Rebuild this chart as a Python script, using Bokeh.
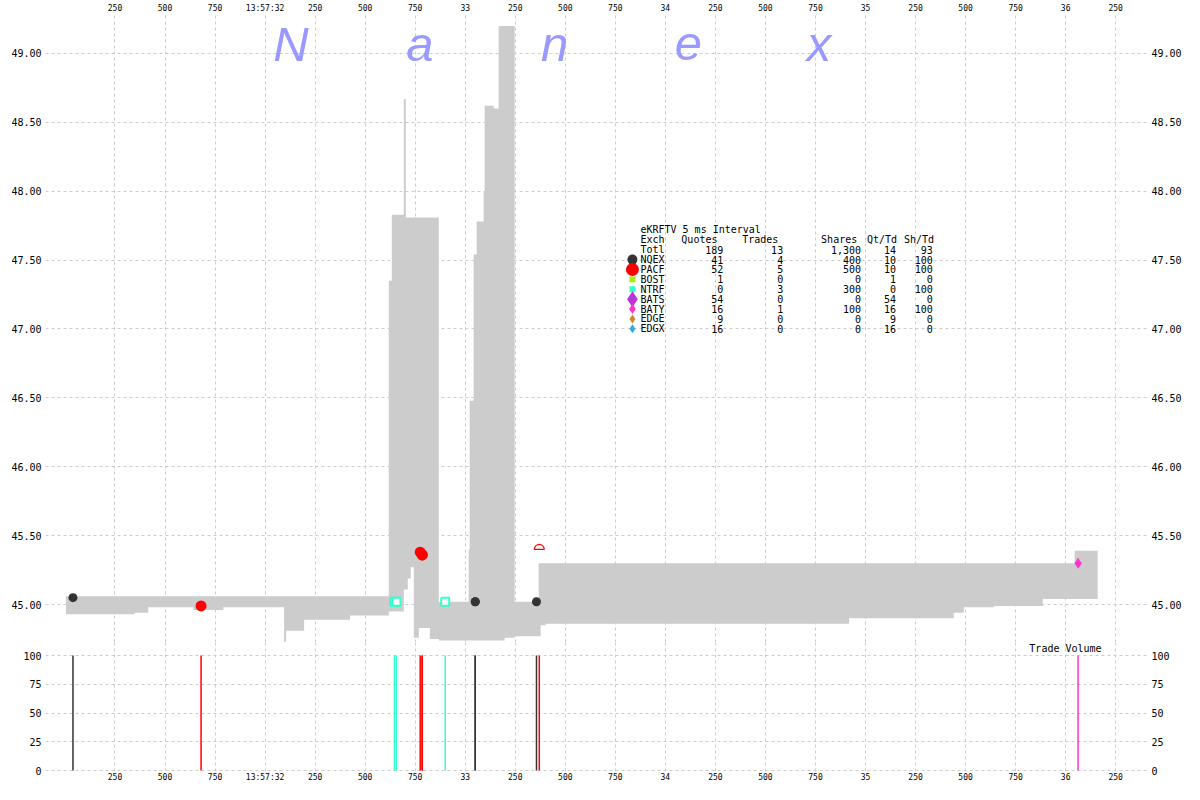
import numpy as np
from bokeh.plotting import figure
from bokeh.models import Range1d, FixedTicker, LinearAxis, NumeralTickFormatter
from bokeh.layouts import column
from bokeh.embed import file_html
from bokeh.resources import INLINE
from bokeh.core.properties import value

# ---------------- data (time = seconds after 13:57:31.000) ----------------
spread_t = [0.005, 0.347, 0.416, 0.641, 0.791, 1.095, 1.105, 1.195, 1.424, 1.618,
            1.633, 1.693, 1.703, 1.713, 1.728, 1.743, 1.768, 1.823, 1.868, 2.017,
            2.022, 2.042, 2.057, 2.092, 2.097, 2.142, 2.167, 2.197, 2.247, 2.367,
            2.377, 2.401, 3.918, 4.441, 4.491, 4.641, 4.886, 5.045, 5.160]
spread_ask = [45.06, 45.06, 45.06, 45.06, 45.06, 45.06, 45.06, 45.06, 45.06, 47.35,
              47.83, 48.67, 47.81, 47.81, 47.81, 47.81, 47.81, 47.81, 45.02, 45.40,
              46.48, 47.54, 47.78, 48.00, 48.62, 48.60, 49.20, 49.20, 45.02, 45.30,
              45.30, 45.30, 45.30, 45.30, 45.30, 45.30, 45.30, 45.39, 45.39]
spread_bid = [44.93, 44.94, 44.98, 44.96, 44.98, 44.73, 44.81, 44.89, 44.92, 44.95,
              44.95, 45.11, 45.11, 45.19, 45.27, 44.76, 44.83, 44.75, 44.74, 44.74,
              44.74, 44.74, 44.74, 44.74, 44.74, 44.74, 44.74, 44.76, 44.77, 44.77,
              44.85, 44.86, 44.90, 44.94, 44.98, 44.99, 45.04, 45.04, 45.04]

trade_exch = ["NQEX", "PACF", "NTRF", "NTRF", "PACF", "PACF", "PACF", "NTRF",
              "NQEX", "NQEX", "NQEX", "PACF", "BATY"]
trade_t = [0.040, 0.680, 1.646, 1.656, 1.775, 1.785, 1.785, 1.900,
           2.050, 2.050, 2.356, 2.370, 5.062]
trade_price = [45.05, 44.99, 45.02, 45.02, 45.38, 45.36, 45.36, 45.02,
               45.02, 45.02, 45.02, 45.40, 45.30]
trade_size = [100] * 13

table_exch = ["NQEX", "PACF", "BOST", "NTRF", "BATS", "BATY", "EDGE", "EDGX"]
table_quotes = ["41", "52", "1", "0", "54", "16", "9", "16"]
table_trades = ["4", "5", "0", "3", "0", "1", "0", "0"]
table_shares = ["400", "500", "0", "300", "0", "100", "0", "0"]
table_qttd = ["10", "10", "1", "0", "54", "16", "9", "16"]
table_shtd = ["100", "100", "0", "100", "0", "100", "0", "0"]
total_row = ["Totl", "189", "13", "1,300", "14", "93"]
table_title = "eKRFTV 5 ms Interval"
table_headers = ["Exch", "Quotes", "Trades", "Shares", "Qt/Td", "Sh/Td"]

price_ticks = [45.0, 45.5, 46.0, 46.5, 47.0, 47.5, 48.0, 48.5, 49.0]
vol_ticks = [0, 25, 50, 75, 100]
time_ticks = [0.25, 0.5, 0.75, 1.0, 1.25, 1.5, 1.75, 2.0, 2.25, 2.5, 2.75, 3.0,
              3.25, 3.5, 3.75, 4.0, 4.25, 4.5, 4.75, 5.0, 5.25]
time_labels = ["250", "500", "750", "13:57:32", "250", "500", "750", "33",
               "250", "500", "750", "34", "250", "500", "750", "35",
               "250", "500", "750", "36", "250"]

# ---------------- styles ----------------
EXCH_COLOR = {"NQEX": "#333333", "PACF": "#ff0000", "BOST": "#aaee11", "NTRF": "#33ffcc",
              "BATS": "#bb33dd", "BATY": "#ff33cc", "EDGE": "#cc8833", "EDGX": "#33aadd"}
MONO = "DejaVu Sans Mono"
GRID = "#cccccc"

# figure-pixel helpers (layout placement only)
def tx(px):
    return (px - 64.5) / 200.5

def py(pix):
    return 45.0 + (604 - pix) / 138.0

def vy(pix):
    return (770 - pix) / 1.15

xr = Range1d(tx(45), tx(1149))

def style_axis(ax, size="10px", standoff=4):
    ax.axis_line_color = None
    ax.major_tick_line_color = None
    ax.minor_tick_line_color = None
    ax.major_tick_out = 0
    ax.major_tick_in = 0
    ax.minor_tick_out = 0
    ax.minor_tick_in = 0
    ax.major_label_standoff = standoff
    ax.major_label_text_font = MONO
    ax.major_label_text_font_size = size
    ax.major_label_text_color = "black"

overrides = {t: l for t, l in zip(time_ticks, time_labels)}
xt = FixedTicker(ticks=time_ticks)

# ---------------- price panel ----------------
p = figure(width=1184, height=642, x_range=xr, y_range=Range1d(py(642), py(12)),
           output_backend="svg", toolbar_location=None, x_axis_location="above",
           min_border_left=45, min_border_right=35, min_border_top=12, min_border_bottom=0)
p.outline_line_color = None
p.background_fill_color = "white"
p.border_fill_color = "white"

p.xaxis.ticker = xt
p.xaxis.major_label_overrides = overrides
style_axis(p.xaxis[0], "8px", 1)
p.xgrid.ticker = xt

yt = FixedTicker(ticks=price_ticks)
p.yaxis.ticker = yt
p.yaxis.formatter = NumeralTickFormatter(format="0.00")
style_axis(p.yaxis[0], "10px", 4)
ra = LinearAxis(ticker=yt, formatter=NumeralTickFormatter(format="0.00"))
style_axis(ra, "10px", 4)
p.add_layout(ra, "right")
p.ygrid.ticker = yt
for g in (p.xgrid, p.ygrid):
    g.grid_line_color = GRID
    g.grid_line_dash = "3 3"

# watermark
p.text(x=[tx(291), tx(420), tx(555), tx(689), tx(820)], y=[py(42.5)] * 5,
       text=list("Nanex"), text_align="center", text_baseline="middle",
       text_color="#9999ff", text_font=value("Liberation Sans"),
       text_font_style="italic", text_font_size="49px")

# spread
p.varea_step(x=spread_t, y1=spread_bid, y2=spread_ask, step_mode="after",
             fill_color="#cccccc")

# trades: inside / outside the spread at trade time
idx_at = np.searchsorted(np.array(spread_t), np.array(trade_t), side="right") - 1
outside = [(trade_price[i] > spread_ask[j] or trade_price[i] < spread_bid[j])
           for i, j in enumerate(idx_at)]

def sub(exch, out):
    idx = [i for i, e in enumerate(trade_exch) if e == exch and outside[i] == out]
    return [trade_t[i] for i in idx], [trade_price[i] for i in idx]

tt, tp = sub("NQEX", False)
p.scatter(tt, tp, marker="circle", size=9, fill_color=EXCH_COLOR["NQEX"], line_color=None)
tt, tp = sub("PACF", False)
p.scatter(tt, tp, marker="circle", size=11, fill_color=EXCH_COLOR["PACF"], line_color=None)
tt, tp = sub("NTRF", False)
p.scatter(tt, tp, marker="square", size=8, fill_color="white", line_color=EXCH_COLOR["NTRF"],
          line_width=2)
tt, tp = sub("BATY", False)
p.scatter(tt, tp, marker="diamond", size=11, fill_color=EXCH_COLOR["BATY"], line_color=None)
for ex in ["NQEX", "PACF", "NTRF", "BATY"]:
    tt, tp = sub(ex, True)
    if tt:
        p.wedge(x=tt, y=tp, radius=5, radius_units="screen", start_angle=0,
                end_angle=np.pi, fill_color=None, line_color=EXCH_COLOR[ex],
                line_width=1.2)

# statistics table
row_y = [py(258.5 + 9.9 * i) for i in range(len(table_exch))]
txt = dict(text_font=value(MONO), text_font_size="10px", text_color="black",
           text_baseline="middle")
p.text(x=[tx(641)], y=[py(228)], text=[table_title], text_align="left", **txt)
p.text(x=[tx(641), tx(682), tx(743), tx(822), tx(868), tx(905)], y=[py(238.5)] * 6,
       text=table_headers, text_align="left", **txt)
p.text(x=[tx(641)], y=[py(248.5)], text=[total_row[0]], text_align="left", **txt)
col_x = [tx(724), tx(784), tx(862), tx(897), tx(934)]
p.text(x=col_x, y=[py(248.5)] * 5, text=total_row[1:], text_align="right", **txt)
p.text(x=[tx(641)] * len(table_exch), y=row_y, text=table_exch, text_align="left", **txt)
for cx, vals in zip(col_x, [table_quotes, table_trades, table_shares, table_qttd, table_shtd]):
    p.text(x=[cx] * len(vals), y=row_y, text=vals, text_align="right", **txt)

leg_marker = {"NQEX": ("circle", 10), "PACF": ("circle", 13), "BOST": ("square", 6),
              "NTRF": ("square", 6), "BATS": ("diamond", 16), "BATY": ("diamond", 10),
              "EDGE": ("diamond", 9), "EDGX": ("diamond", 9)}
for ex, yy in zip(table_exch, row_y):
    m, s = leg_marker[ex]
    p.scatter([tx(633)], [yy], marker=m, size=s, fill_color=EXCH_COLOR[ex], line_color=None)

# ---------------- volume panel ----------------
v = figure(width=1184, height=142, x_range=xr, y_range=Range1d(vy(771), vy(642)),
           output_backend="svg", toolbar_location=None,
           min_border_left=45, min_border_right=35, min_border_top=0, min_border_bottom=13)
v.outline_line_color = None
v.background_fill_color = "white"
v.border_fill_color = "white"
v.xaxis.ticker = xt
v.xaxis.major_label_overrides = overrides
style_axis(v.xaxis[0], "8px", 1)
v.xgrid.ticker = xt
vt = FixedTicker(ticks=vol_ticks)
v.yaxis.ticker = vt
style_axis(v.yaxis[0], "10px", 4)
vra = LinearAxis(ticker=vt)
style_axis(vra, "10px", 4)
v.add_layout(vra, "right")
v.ygrid.ticker = vt
for g in (v.xgrid, v.ygrid):
    g.grid_line_color = GRID
    g.grid_line_dash = "3 3"

v.segment(x0=trade_t, y0=[0] * len(trade_t), x1=trade_t, y1=trade_size,
          line_color=[EXCH_COLOR[e] for e in trade_exch], line_width=1.5)
v.text(x=[tx(1103)], y=[vy(648)], text=["Trade Volume"], text_align="right", **txt)

layout = column(p, v)
open("out.html", "w").write(file_html(layout, INLINE))
